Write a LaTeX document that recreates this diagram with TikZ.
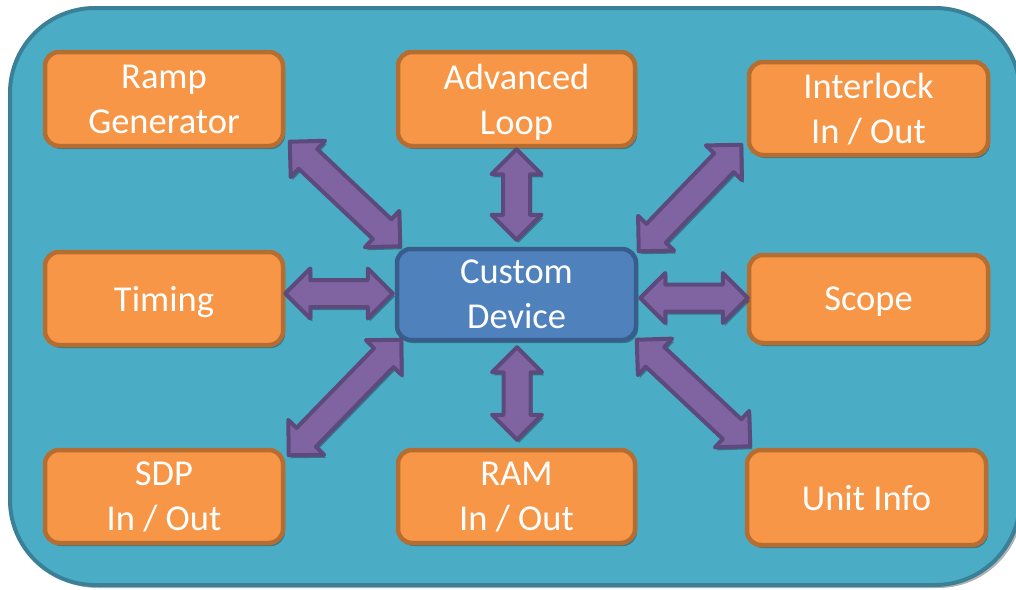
\documentclass[tikz,border=0pt]{standalone}
\usepackage{fontspec}
\setmainfont{Carlito}
\usetikzlibrary{calc,shadows}
\definecolor{bgfill}{HTML}{4BACC6}
\definecolor{bgdraw}{HTML}{3A8096}
\definecolor{orfill}{HTML}{F79646}
\definecolor{ordraw}{HTML}{B66D31}
\definecolor{blfill}{HTML}{4F81BD}
\definecolor{bldraw}{HTML}{385D8A}
\definecolor{pufill}{HTML}{8064A2}
\definecolor{pudraw}{HTML}{5D4A7C}
\def\arHL{25pt}
\def\arHW{25pt}
\def\arSW{13.5pt}
\newcommand{\blockarrow}[2]{%
 \filldraw[barrow] (#1) -- ($(#1)!\arHL!(#2)!\arHW!90:(#2)$) -- ($(#1)!\arHL!(#2)!\arSW!90:(#2)$)
   -- ($(#2)!\arHL!(#1)!\arSW!-90:(#1)$) -- ($(#2)!\arHL!(#1)!\arHW!-90:(#1)$) -- (#2)
   -- ($(#2)!\arHL!(#1)!\arHW!90:(#1)$) -- ($(#2)!\arHL!(#1)!\arSW!90:(#1)$)
   -- ($(#1)!\arHL!(#2)!\arSW!-90:(#2)$) -- ($(#1)!\arHL!(#2)!\arHW!-90:(#2)$) -- cycle;}
\tikzset{
  box/.style={rounded corners=14pt, line width=4.5pt, minimum width=238pt, minimum height=93pt,
    align=center, text=white, inner sep=0pt, text depth=0pt,
    font=\fontsize{36.5}{45}\selectfont,
    drop shadow={shadow xshift=2pt, shadow yshift=-3pt, opacity=0.3, fill=black}},
  obox/.style={box, fill=orfill, draw=ordraw},
  cbox/.style={box, fill=blfill, draw=bldraw},
  barrow/.style={fill=pufill, draw=pudraw, line width=4pt, line join=round,
    drop shadow={shadow xshift=2pt, shadow yshift=-3pt, opacity=0.3, fill=black}},
  bgbox/.style={fill=bgfill, draw=bgdraw, line width=4pt, rounded corners=85pt,
    drop shadow={shadow xshift=3pt, shadow yshift=-3pt, opacity=0.3, fill=black}}
}
\begin{document}
\begin{tikzpicture}[x=1pt, y=-1pt]
\useasboundingbox (0,0) rectangle (1016,589);
\draw[bgbox] (10,8) rectangle (1020,585);
\node[obox, minimum width=238pt, minimum height=94pt] (ramp) at (164,99) {Ramp\\Generator};
\node[obox, minimum width=237pt, minimum height=94pt] (loop) at (516.5,99) {Advanced\\Loop};
\node[obox, minimum width=239pt, minimum height=93pt] (inter) at (868.5,108.5) {Interlock\\In / Out};
\node[obox, minimum width=238pt, minimum height=93pt] (timing) at (164,298.5) {Timing};
\node[cbox, minimum width=239pt, minimum height=91pt] (custom) at (516.5,294.5) {Custom\\Device};
\node[obox, minimum width=239pt, minimum height=88pt] (scope) at (868.5,299) {Scope};
\node[obox, minimum width=238pt, minimum height=93pt] (sdp) at (164,496.5) {SDP\\In / Out};
\node[obox, minimum width=237pt, minimum height=93pt] (ram) at (516.5,496.5) {RAM\\In / Out};
\node[obox, minimum width=239pt, minimum height=95pt] (unit) at (866.5,497.5) {Unit Info};
\coordinate (a1s) at ([shift={(4.5,-6.5)}]ramp.south east);
\coordinate (a1e) at ([shift={(5.5,-0.5)}]custom.north west);
\coordinate (a2s) at ([shift={(0,1)}]loop.south);
\coordinate (a2e) at ([shift={(0,-7)}]custom.north);
\coordinate (a3s) at ([shift={(-5.5,-12.5)}]inter.south west);
\coordinate (a3e) at ([shift={(0.5,4.5)}]custom.north east);
\coordinate (a4s) at ([shift={(0,-5)}]timing.east);
\coordinate (a4e) at ([shift={(-2,-1)}]custom.west);
\coordinate (a5s) at ([shift={(2,3.5)}]custom.east);
\coordinate (a5e) at ([shift={(1,-1)}]scope.west);
\coordinate (a6s) at ([shift={(6.5,-2.5)}]custom.south west);
\coordinate (a6e) at ([shift={(3.5,7.5)}]sdp.north east);
\coordinate (a7s) at ([shift={(0.5,5)}]custom.south);
\coordinate (a7e) at ([shift={(0.5,-8)}]ram.north);
\coordinate (a8s) at ([shift={(-1.5,-2.5)}]custom.south east);
\coordinate (a8e) at ([shift={(5.5,-1.5)}]unit.north west);
\blockarrow{a1s}{a1e}
\blockarrow{a2s}{a2e}
\blockarrow{a3s}{a3e}
\blockarrow{a4s}{a4e}
\blockarrow{a5s}{a5e}
\blockarrow{a6s}{a6e}
\blockarrow{a7s}{a7e}
\blockarrow{a8s}{a8e}
\end{tikzpicture}
\end{document}
